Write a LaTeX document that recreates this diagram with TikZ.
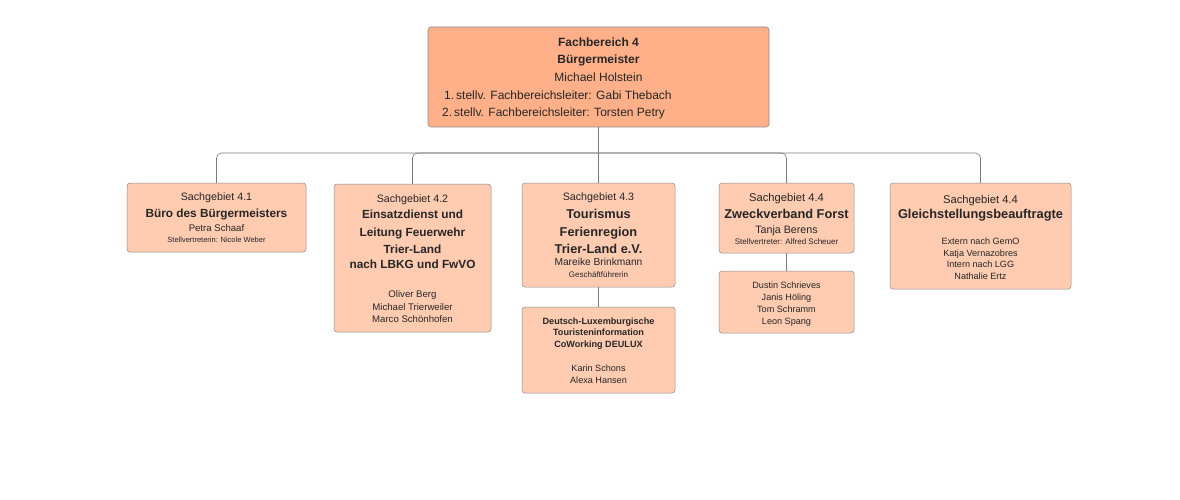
\documentclass[tikz,border=0pt]{standalone}
\usepackage{fontspec}
\setmainfont{Liberation Sans}
\definecolor{topfill}{HTML}{FFB088}
\definecolor{subfill}{HTML}{FFCBB1}
\definecolor{boxline}{HTML}{8C8C8C}
\definecolor{connline}{HTML}{7A7A7A}
\definecolor{txt}{HTML}{262626}
\newcommand\Tx[5]{\node[anchor=base,inner sep=0pt,text=txt,font=#4] (#1) at (#2,#3) {#5};}
\newcommand\fs[1]{\fontsize{#1}{#1}\selectfont}
\begin{document}
\begin{tikzpicture}[x=1pt,y=-1pt,
  topbox/.style={draw=boxline,fill=topfill,rounded corners=3pt,line width=0.6pt,inner sep=0pt},
  subbox/.style={draw=boxline,fill=subfill,rounded corners=3pt,line width=0.5pt,inner sep=0pt},
  conn/.style={draw=connline,line width=0.6pt,rounded corners=5pt}]
\useasboundingbox[fill=white] (0,0) rectangle (1180,500);
% boxes
\node[topbox,minimum width=341pt,minimum height=100pt] (top) at (598.5,77) {};
\node[subbox,minimum width=179pt,minimum height=69pt] (s41) at (216.5,217.5) {};
\node[subbox,minimum width=157pt,minimum height=148pt] (s42) at (412.5,258) {};
\node[subbox,minimum width=153pt,minimum height=104pt] (s43) at (598.5,235) {};
\node[subbox,minimum width=153pt,minimum height=86pt] (s43b) at (598.5,350) {};
\node[subbox,minimum width=135pt,minimum height=70pt] (s44) at (786.5,218) {};
\node[subbox,minimum width=135pt,minimum height=62pt] (s44b) at (786.5,302) {};
\node[subbox,minimum width=181pt,minimum height=106pt] (s45) at (980.5,236) {};
% connectors
\coordinate (bus) at (598.5,153);
\draw[conn] (top.south) -- (s43.north);
\draw[conn] (bus) -| (s41.north);
\draw[conn] (bus) -| (s42.north);
\draw[conn] (bus) -| (s44.north);
\draw[conn] (bus) -| (s45.north);
\draw[conn] (s43.south) -- (s43b.north);
\draw[conn] (s44.south) -- (s44b.north);
% top text
\Tx{a1}{598.5}{47}{\fs{12}\bfseries}{Fachbereich 4}
\Tx{a2}{598.5}{64}{\fs{12}\bfseries}{Bürgermeister}
\Tx{a3}{598.5}{81.5}{\fs{12}}{Michael Holstein}
\node[anchor=base west,inner sep=0pt,text=txt,font=\fs{12}] (a4) at (444,99.5) {1.\,stellv. Fachbereichsleiter: Gabi Thebach};
\node[anchor=base west,inner sep=0pt,text=txt,font=\fs{12}] (a5) at (442,116.5) {2.\,stellv. Fachbereichsleiter: Torsten Petry};
% 4.1
\Tx{b1}{216.5}{200.5}{\fs{10.7}}{Sachgebiet 4.1}
\Tx{b2}{216.5}{217.5}{\fs{11.8}\bfseries}{Büro des Bürgermeisters}
\Tx{b3}{216.5}{231.5}{\fs{9.6}}{Petra Schaaf}
\Tx{b4}{216.5}{242.5}{\fs{7.5}}{Stellvertreterin: Nicole Weber}
% 4.2
\Tx{c1}{412.5}{202.5}{\fs{10.7}}{Sachgebiet 4.2}
\Tx{c2}{412.5}{218.5}{\fs{11.8}\bfseries}{Einsatzdienst und}
\Tx{c3}{412.5}{236.5}{\fs{11.8}\bfseries}{Leitung Feuerwehr}
\Tx{c4}{412.5}{253.5}{\fs{11.8}\bfseries}{Trier-Land}
\Tx{c5}{412.5}{268.5}{\fs{11.8}\bfseries}{nach LBKG und FwVO}
\Tx{c6}{412.5}{297.5}{\fs{9.6}}{Oliver Berg}
\Tx{c7}{412.5}{310.5}{\fs{9.6}}{Michael Trierweiler}
\Tx{c8}{412.5}{322.5}{\fs{9.6}}{Marco Schönhofen}
% 4.3
\Tx{d1}{598.5}{200.5}{\fs{10.7}}{Sachgebiet 4.3}
\Tx{d2}{598.5}{218}{\fs{12.8}\bfseries}{Tourismus}
\Tx{d3}{598.5}{236}{\fs{12.8}\bfseries}{Ferienregion}
\Tx{d4}{598.5}{253}{\fs{12.8}\bfseries}{Trier-Land e.V.}
\Tx{d5}{598.5}{265.5}{\fs{10.2}}{Mareike Brinkmann}
\Tx{d6}{598.5}{277}{\fs{8}}{Geschäftführerin}
% 4.3b
\Tx{e1}{598.5}{324.5}{\fs{9.1}\bfseries}{Deutsch-Luxemburgische}
\Tx{e2}{598.5}{335.5}{\fs{9.1}\bfseries}{Touristeninformation}
\Tx{e3}{598.5}{347.5}{\fs{9.1}\bfseries}{CoWorking DEULUX}
\Tx{e4}{598.5}{371.5}{\fs{9.1}}{Karin Schons}
\Tx{e5}{598.5}{383.5}{\fs{9.1}}{Alexa Hansen}
% 4.4
\Tx{f1}{786.5}{201}{\fs{11.2}}{Sachgebiet 4.4}
\Tx{f2}{786.5}{218.5}{\fs{12.8}\bfseries}{Zweckverband Forst}
\Tx{f3}{786.5}{233}{\fs{10.7}}{Tanja Berens}
\Tx{f4}{786.5}{244}{\fs{8}}{Stellvertreter: Alfred Scheuer}
% 4.4b
\Tx{g1}{786.5}{288.5}{\fs{9.1}}{Dustin Schrieves}
\Tx{g2}{786.5}{300.5}{\fs{9.1}}{Janis Höling}
\Tx{g3}{786.5}{312.5}{\fs{9.1}}{Tom Schramm}
\Tx{g4}{786.5}{324.5}{\fs{9.1}}{Leon Spang}
% 4.4c
\Tx{h1}{980.5}{203}{\fs{11.2}}{Sachgebiet 4.4}
\Tx{h2}{980.5}{218.5}{\fs{12.8}\bfseries}{Gleichstellungsbeauftragte}
\Tx{h3}{980.5}{244.5}{\fs{9.1}}{Extern nach GemO}
\Tx{h4}{980.5}{256}{\fs{9.1}}{Katja Vernazobres}
\Tx{h5}{980.5}{267.5}{\fs{9.1}}{Intern nach LGG}
\Tx{h6}{980.5}{279}{\fs{9.1}}{Nathalie Ertz}
\end{tikzpicture}
\end{document}
